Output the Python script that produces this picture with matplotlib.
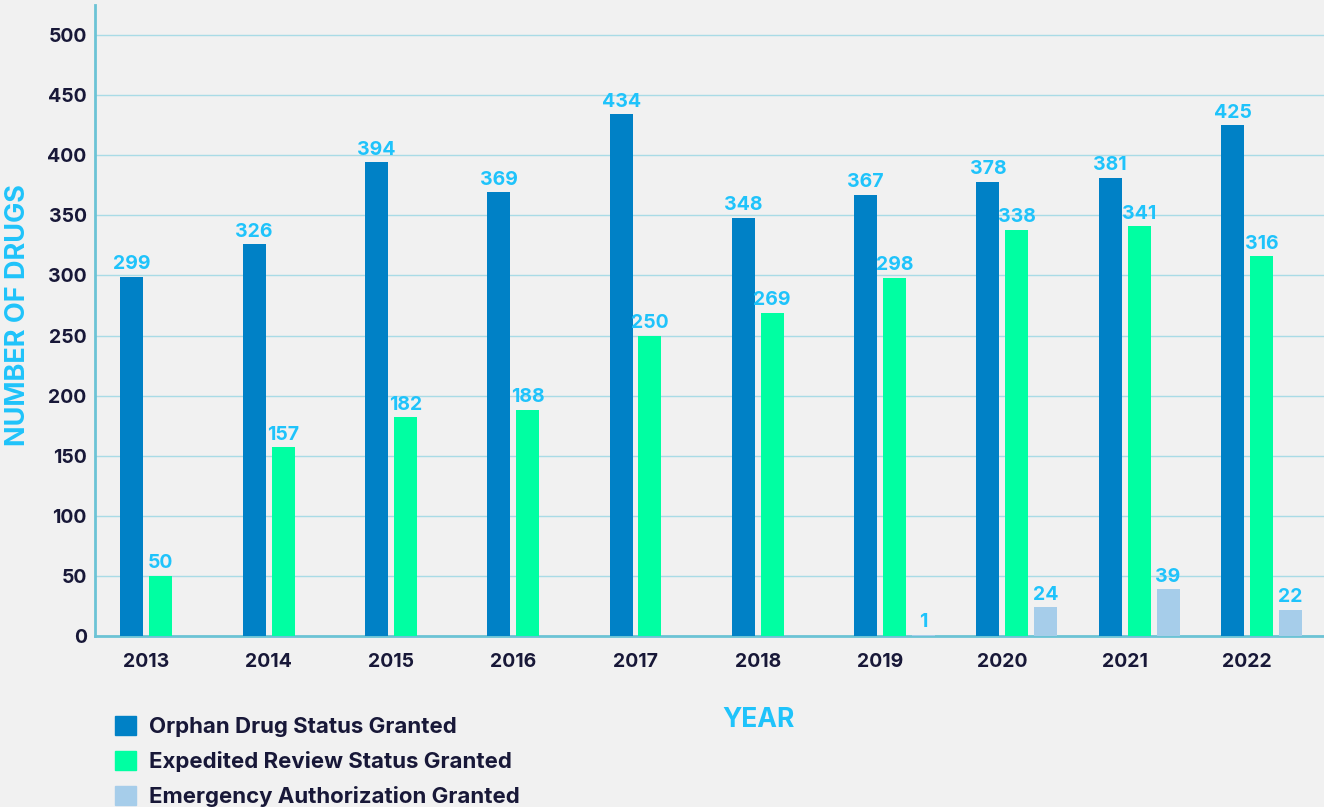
import numpy as np
import matplotlib
matplotlib.use('Agg')
import matplotlib.pyplot as plt
from matplotlib.patches import Patch

years = ['2013', '2014', '2015', '2016', '2017', '2018', '2019', '2020', '2021', '2022']
orphan = [299, 326, 394, 369, 434, 348, 367, 378, 381, 425]
expedited = [50, 157, 182, 188, 250, 269, 298, 338, 341, 316]
emergency = [0, 0, 0, 0, 0, 0, 1, 24, 39, 22]
series_names = ['Orphan Drug Status Granted', 'Expedited Review Status Granted',
                'Emergency Authorization Granted']

c_orphan = '#0081c6'
c_exp = '#00ffa2'
c_emg = '#a6cdea'
c_label = '#1fc3fb'
c_navy = '#181838'
c_axis = '#6cc3d5'
c_grid = '#a9dbe6'

plt.rcParams['font.family'] = ['Inter', 'DejaVu Sans']
plt.rcParams['font.weight'] = 'bold'

fig = plt.figure(figsize=(13.24, 8.07), dpi=100, facecolor='#f1f1f1')
ax = fig.add_axes([95 / 1324, 171 / 807, 1229 / 1324, 631 / 807])
ax.set_facecolor('#f1f1f1')

x = np.arange(len(years))
w = 0.188
off = 0.118
bars = [
    ax.bar(x - off, orphan, w, color=c_orphan, zorder=3),
    ax.bar(x + off, expedited, w, color=c_exp, zorder=3),
    ax.bar(x + off + 0.237, emergency, w, color=c_emg, zorder=3),
]
for b, vals in zip(bars, [orphan, expedited, emergency]):
    for rect, v in zip(b, vals):
        if v > 0:
            ax.text(rect.get_x() + rect.get_width() / 2, v + 3, str(v),
                    ha='center', va='bottom', color=c_label, fontsize=14,
                    fontweight='bold', zorder=4)

ax.set_xlim(-0.42, 9.63)
ax.set_ylim(0, 525)
ax.set_yticks(range(0, 501, 50))
ax.set_xticks(x)
ax.set_xticklabels(years)
ax.tick_params(axis='both', length=0, labelsize=14, labelcolor=c_navy)
ax.tick_params(axis='x', pad=12)
ax.tick_params(axis='y', pad=6)
ax.grid(axis='y', color=c_grid, linewidth=1, zorder=0)
for s in ['top', 'right']:
    ax.spines[s].set_visible(False)
for s in ['left', 'bottom']:
    ax.spines[s].set_color(c_axis)
    ax.spines[s].set_linewidth(2)

fig.text(18 / 1324, 1 - 315 / 807, 'NUMBER OF DRUGS', rotation=90, ha='center',
         va='center', color=c_label, fontsize=19.5, fontweight='bold')
fig.text(759 / 1324, 1 - 720 / 807, 'YEAR', ha='center', va='center',
         color=c_label, fontsize=19, fontweight='bold')

handles = [Patch(color=c) for c in [c_orphan, c_exp, c_emg]]
fig.legend(handles, series_names, loc='upper left',
           bbox_to_anchor=(95 / 1324, 1 - 696 / 807), frameon=False,
           fontsize=16, labelcolor=c_navy, handlelength=0.95, handleheight=0.95,
           handletextpad=0.6, labelspacing=0.62)

fig.savefig('out.png', dpi=100, facecolor=fig.get_facecolor())
